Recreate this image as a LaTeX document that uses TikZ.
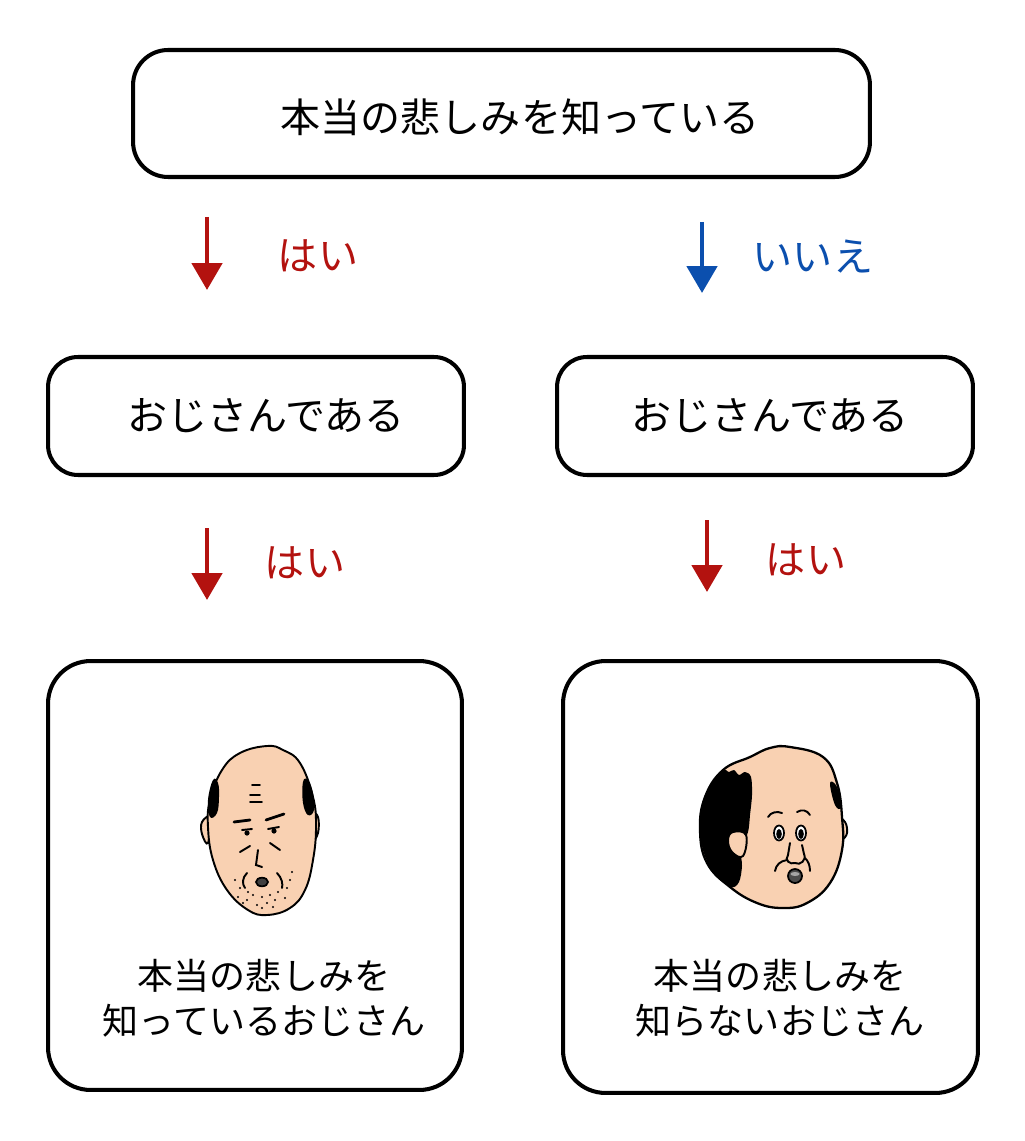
\documentclass[tikz,border=0pt]{standalone}
\usepackage{fontspec}
\newfontfamily\jpfont{Noto Sans CJK JP}
\usetikzlibrary{arrows.meta,positioning}
\definecolor{yesred}{HTML}{B3120F}
\definecolor{noblue}{HTML}{0B4FAE}
\definecolor{skin}{HTML}{F9D1B2}
\tikzstyle{box} = [draw,line width=2.3pt,rounded corners=0.7cm,inner sep=0pt]
\tikzstyle{bigbox} = [box,rounded corners=0.85cm]
\tikzstyle{txt} = [inner sep=0pt,font=\jpfont\fontsize{22.8}{28}\selectfont]
\tikzstyle{small} = [inner sep=0pt,align=center,font=\jpfont\fontsize{20.5}{25.6}\selectfont]
\tikzstyle{arrow} = [line width=2.8pt,-{Triangle[width=0.6cm,length=0.54cm]}]
\tikzstyle{face} = [draw,line width=1.1pt,fill=skin]
\tikzstyle{hair} = [fill=black]
\tikzstyle{ln} = [line width=1.1pt,line cap=round]

\begin{document}
\begin{tikzpicture}[x=0.02cm,y=-0.02cm]
  \useasboundingbox[fill=white] (0,0) rectangle (1024,1141);
  % boxes
  \node[box,minimum width=14.74cm,minimum height=2.54cm] (q1) at (501.5,113.5) {};
  \node[box,rounded corners=0.6cm,minimum width=8.32cm,minimum height=2.36cm] (q2l) at (256,416) {};
  \node[box,rounded corners=0.6cm,minimum width=8.32cm,minimum height=2.36cm] (q2r) at (765,416) {};
  \node[bigbox,minimum width=8.28cm,minimum height=8.58cm] (ansl) at (255,875.5) {};
  \node[bigbox,minimum width=8.3cm,minimum height=8.64cm] (ansr) at (770.5,877) {};
  % texts
  \node[txt] (q1t) at (520,117) {本当の悲しみを知っている};
  \node[txt] (q2lt) at (266,416) {おじさんである};
  \node[txt] (q2rt) at (770,416) {おじさんである};
  \node[small] (anslt) at (264,998) {本当の悲しみを\\知っているおじさん};
  \node[small] (ansrt) at (780,998) {本当の悲しみを\\知らないおじさん};
  % arrows
  \coordinate (a1) at (207,217);
  \coordinate (a1e) at (207,290);
  \coordinate (a2) at (702,222);
  \coordinate (a2e) at (702,293);
  \coordinate (a3) at (207,528);
  \coordinate (a3e) at (207,600);
  \coordinate (a4) at (707,520);
  \coordinate (a4e) at (707,592);
  \draw[arrow,yesred] (a1) -- (a1e);
  \draw[arrow,noblue] (a2) -- (a2e);
  \draw[arrow,yesred] (a3) -- (a3e);
  \draw[arrow,yesred] (a4) -- (a4e);
  \node[txt,text=yesred] (y1) at (318,256) {はい};
  \node[txt,text=noblue] (n1) at (813,257) {いいえ};
  \node[txt,text=yesred] (y2) at (305,563) {はい};
  \node[txt,text=yesred] (y3) at (806,560) {はい};
  % left face
  \draw[face] plot[smooth cycle,tension=0.7] coordinates {(210,818) (202,822) (202,834) (208,843)};
  \draw[face] plot[smooth cycle,tension=0.7] coordinates {(312,815) (318,817) (318,833) (312,840)};
  \draw[face] plot[smooth cycle,tension=0.7] coordinates {(267,746) (283,750) (300,763) (313,797) (316,827)
    (313,860) (305,890) (290,908) (267,915) (248,910) (227,890) (213,860) (208,827) (210,800) (222,770) (240,753)};
  \fill[hair] plot[smooth cycle,tension=0.7] coordinates {(213,780) (218,783) (219,797) (217,813) (210,817) (208,800)};
  \fill[hair] plot[smooth cycle,tension=0.7] coordinates {(303,782) (308,780) (313,793) (314,810) (308,815) (303,803)};
  \draw[ln] (252,785) -- (260,785) (250,795) -- (260,795) (250,802) -- (262,802);
  \draw[ln,line width=1.6pt] (234,822) -- (250,820) (266,820) -- (284,814);
  \draw[ln] (242,830) -- (252,829) (268,829) -- (279,827);
  \fill (247,833) circle (2.6) (274,831) circle (2.6);
  \draw[ln] (240,852) -- (250,846) (270,843) -- (280,850);
  \draw[ln] (258,850) -- (256,865) -- (262,867);
  \draw[ln] (247,873) .. controls (242,878) and (242,884) .. (245,888);
  \draw[ln] (277,873) .. controls (282,878) and (283,884) .. (282,888);
  \draw[fill=black!75,line width=1pt] (262,882) ellipse (6 and 4.3);
  \foreach \p in {(235,880),(240,888),(248,892),(253,895),(247,900),(262,897),(270,895),(278,892),(287,888),
    (290,880),(292,872),(285,898),(275,900),(267,903),(257,905),(243,903),(238,897),(262,908),(273,907)}
    \fill \p circle (1.1);
  % right face
  \draw[face] plot[smooth cycle,tension=0.7] coordinates {(838,820) (845,822) (847,833) (842,840) (838,840)};
  \draw[face,line width=1.3pt] plot[smooth cycle,tension=0.7] coordinates {(790,747) (823,757) (837,783) (842,817) (842,850)
    (830,883) (807,903) (783,908) (757,903) (730,887) (707,863) (700,830) (705,797) (723,770) (750,757) (770,748)};
  \fill[hair] plot[smooth cycle,tension=0.55] coordinates {(722,771) (729,772) (734,770) (739,775) (745,772)
    (751,777) (752,795) (750,815) (748,832) (741,850) (742,866) (739,882) (731,887) (714,874) (703,850) (700,822) (705,795)};
  \fill[hair] plot[smooth cycle,tension=0.7] coordinates {(830,783) (837,787) (841,807) (835,805)};
  \draw[face] plot[smooth cycle,tension=0.7] coordinates {(746,835) (733,832) (728,840) (732,852) (743,856)};
  \draw[ln] (768,817) .. controls (771,812) and (777,811) .. (782,813);
  \draw[ln] (797,812) .. controls (802,809) and (807,810) .. (810,815);
  \draw[fill=white,line width=1pt] (779,833) ellipse (5 and 7.5) (801,833) ellipse (5 and 7.5);
  \fill (779,834) ellipse (2.8 and 5) (801,834) ellipse (2.8 and 5);
  \draw[ln] (790,843) -- (788,855) .. controls (784,860) and (790,865) .. (795,863)
    .. controls (800,866) and (807,860) .. (804,854) -- (802,845);
  \draw[ln] (787,860) .. controls (780,861) and (776,865) .. (775,871);
  \draw[ln] (805,858) .. controls (808,861) and (810,865) .. (810,871);
  \draw[fill=black!70,line width=1pt] (795,876) ellipse (7 and 7);
  \fill[black!35] (795,874) ellipse (4.5 and 2);
\end{tikzpicture}
\end{document}
